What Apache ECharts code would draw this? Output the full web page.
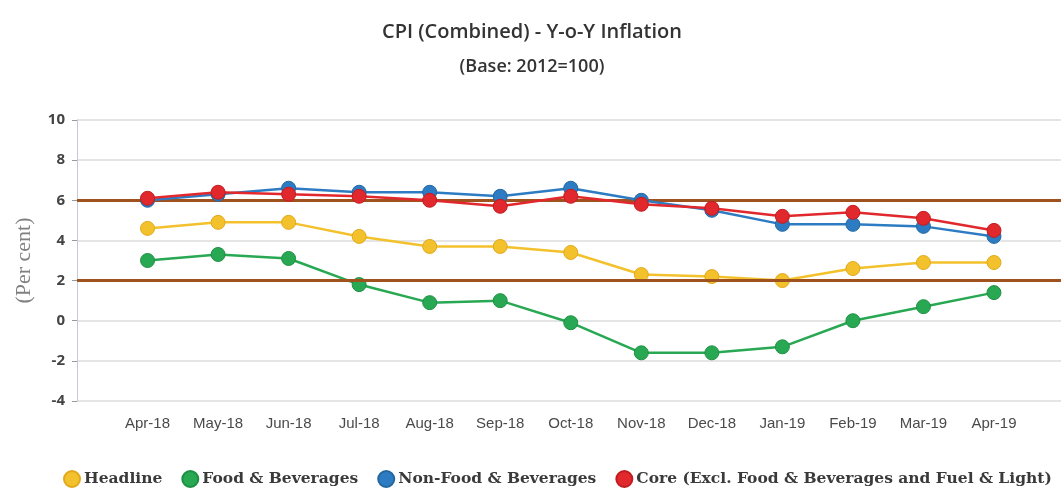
<!DOCTYPE html>
<html><head><meta charset="utf-8">
<script src="https://cdn.jsdelivr.net/npm/echarts@6/dist/echarts.min.js"></script>
<style>html,body{margin:0;padding:0;background:#fff}#c{width:1064px;height:489px}</style>
</head><body><div id="c"></div>
<script>
const categories = ['Apr-18','May-18','Jun-18','Jul-18','Aug-18','Sep-18','Oct-18','Nov-18','Dec-18','Jan-19','Feb-19','Mar-19','Apr-19'];
const headline = [4.6, 4.9, 4.9, 4.2, 3.7, 3.7, 3.4, 2.3, 2.2, 2.0, 2.6, 2.9, 2.9];
const foodBev = [3.0, 3.3, 3.1, 1.8, 0.9, 1.0, -0.1, -1.6, -1.6, -1.3, 0.0, 0.7, 1.4];
const nonFood = [6.0, 6.3, 6.6, 6.4, 6.4, 6.2, 6.6, 6.0, 5.5, 4.8, 4.8, 4.7, 4.2];
const core = [6.1, 6.4, 6.3, 6.2, 6.0, 5.7, 6.2, 5.8, 5.6, 5.2, 5.4, 5.1, 4.5];
const yTicks = [-4, -2, 0, 2, 4, 6, 8, 10];
const refLines = [6, 2];

const names = ['Headline','Food & Beverages','Non-Food & Beverages','Core (Excl. Food & Beverages and Fuel & Light)'];
const colors = ['#f3c12c','#28a853','#2d7cc3','#e1282c'];
const borders = ['#e0a91c','#1f8f43','#24679f','#c01d22'];
const datasets = [headline, foodBev, nonFood, core];

const series = datasets.map((d, i) => ({
  name: names[i],
  type: 'line',
  data: d.map((v, k) => [k, v]),
  symbol: 'circle',
  symbolSize: 14,
  z: 3 + i,
  lineStyle: {color: colors[i], width: 2.5},
  itemStyle: {color: colors[i], borderColor: borders[i], borderWidth: 1},
  emphasis: {disabled: true}
}));
series.push({
  type: 'line', data: [], silent: true,
  markLine: {
    symbol: 'none', silent: true, label: {show: false},
    lineStyle: {color: '#a0521e', width: 3, type: 'solid'},
    data: refLines.map(v => ({yAxis: v}))
  },
  z: 2
});

const chart = echarts.init(document.getElementById('c'));
chart.setOption({
  animation: false,
  title: {
    text: 'CPI (Combined) - Y-o-Y Inflation',
    subtext: '(Base: 2012=100)',
    left: 'center', top: 17, itemGap: 16,
    textStyle: {fontFamily: 'Open Sans', fontSize: 20, fontWeight: 600, color: '#333'},
    subtextStyle: {fontFamily: 'Open Sans', fontSize: 18, fontWeight: 600, color: '#333'}
  },
  legend: {
    data: names,
    bottom: -4, left: 58, width: 1006,
    icon: 'circle', itemWidth: 16, itemHeight: 16, itemGap: 19,
    textStyle: {fontFamily: 'DejaVu Serif', fontSize: 15.5, fontWeight: 'bold', color: '#3a3a3a', padding: [0,0,0,-1]}
  },
  grid: {left: 77, right: 0, top: 120, bottom: 88},
  xAxis: {
    type: 'value', min: -1, max: 12.95, interval: 1,
    axisLine: {show: false}, axisTick: {show: false}, splitLine: {show: false},
    axisLabel: {
      margin: 15,
      fontFamily: 'Liberation Sans', fontSize: 15, color: '#4a4a4a',
      formatter: v => Number.isInteger(v) && v >= 0 && v < categories.length ? categories[v] : ''
    }
  },
  yAxis: {
    type: 'value', min: yTicks[0], max: yTicks[yTicks.length-1], interval: 2,
    name: '(Per cent)', nameLocation: 'middle', nameGap: 42,
    nameTextStyle: {fontFamily: 'Liberation Serif', fontSize: 22, color: '#808080'},
    axisLine: {show: true, onZero: false, lineStyle: {color: '#c8c8dc', width: 1}},
    axisTick: {show: true, inside: false, length: 5, lineStyle: {color: '#999'}},
    splitLine: {lineStyle: {color: '#dcdcdc', width: 1.5}},
    axisLabel: {fontFamily: 'Open Sans', fontSize: 15, fontWeight: 'bold', color: '#444', margin: 12}
  },
  series: series
});
</script></body></html>
